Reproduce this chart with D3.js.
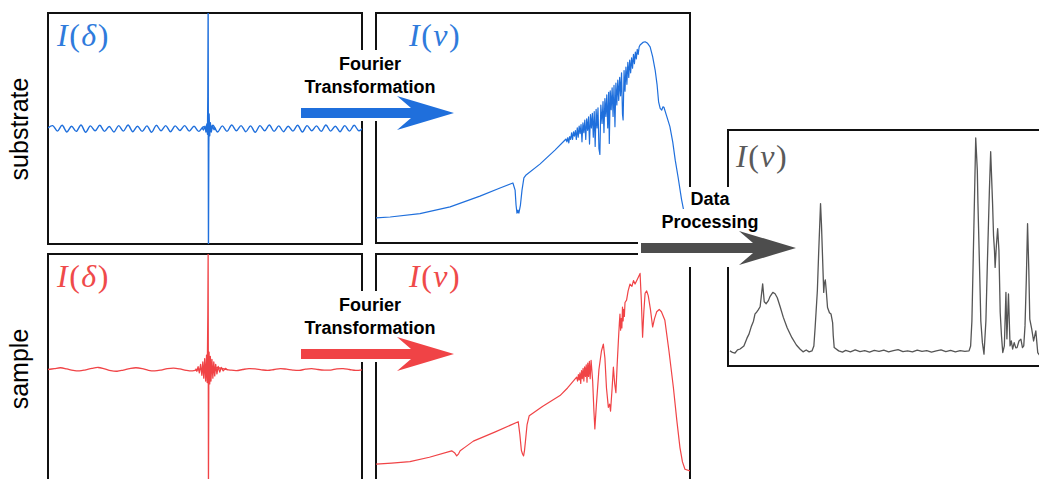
<!DOCTYPE html>
<html>
<head>
<meta charset="utf-8">
<script src="https://cdn.jsdelivr.net/npm/d3@7"></script>
<style>
  body { margin: 0; background: #fff; }
  svg { display: block; }
</style>
</head>
<body>
<svg id="chart" width="1039" height="479"></svg>
<script>
// labels
const rowLabels = ["substrate", "sample"];
const deltaTitle = ["I", "(", "δ", ")"];
const nuTitle = ["I", "(", "ν", ")"];
const ftLabel = ["Fourier", "Transformation"];
const dpLabel = ["Data", "Processing"];

// interferogram wiggle, substrate: one value every 1.5 units of path difference
const substrateWiggle = [0.2, 1.0, -0.9, 1.1, -1.2, 0.8, -1.0, 1.2, -1.3, 0.9, -0.8, 1.1, -1.0, 0.7,
  -1.2, 1.0, -0.9, 1.2, -1.1, 0.8, -1.0, 0.9, -1.3, 1.1, -0.8, 1.0, -1.1, 0.9, -0.7, 1.0, -0.9, 0.8,
  -1.0, 0.6, -0.8, 1.1, -1.2, 0.9, -1.0, 1.2, -0.8, 1.0, -1.1, 0.9, -1.3, 1.0, -0.8, 1.2, -1.0, 0.9,
  -1.1, 0.8, -0.9, 1.1, -1.2, 1.0, -0.8, 0.9, -1.0, 1.2, -0.9, 0.8, -1.1, 1.0, -0.9, 1.1, -0.8, 0.4];
// centre burst, substrate [delta, I]
const substrateBurst = [[49.0, 0.2], [49.5, -0.5], [50.0, 0.8], [50.3, -1.2], [50.6, 1.6], [50.8, -2.0],
  [50.9, 11], [51.0, 40], [51.1, -40], [51.2, -7], [51.3, 5], [51.5, -2.5], [51.7, 2], [52.0, -1.2],
  [52.4, 0.8], [52.9, -0.4], [53.4, 0.2]];

// interferogram wiggle, sample: one value every 2 units
const sampleWiggle = [0, 0.3, 0.6, 0.2, -0.3, -0.5, -0.1, 0.4, 0.7, 0.2, -0.4, -0.6, -0.2, 0.3, 0.6,
  0.3, -0.3, -0.5, -0.2, 0.3, 0.5, 0.2, -0.3, -0.5, 0, 0.2, 0.3, 0.6, 0.2, -0.2, -0.4, 0, 0.3, 0.2,
  -0.1, -0.3, 0, 0.3, 0.1, -0.2, -0.3, 0.1, 0.3, 0, -0.2, -0.2, 0.2, 0.3, 0, -0.3, -0.1];
const sampleBurst = [[47.0, 0.3], [47.4, -0.6], [47.8, 1.0], [48.2, -1.2], [48.6, 1.8], [49.0, -2.0],
  [49.3, 2.6], [49.6, -3.0], [49.9, 3.8], [50.2, -4.0], [50.5, 5.0], [50.7, -4.5], [50.9, 19],
  [51.0, 40], [51.1, -40], [51.2, -6], [51.3, 6], [51.5, -5], [51.7, 4.5], [51.9, -4], [52.2, 3.5],
  [52.5, -3], [52.8, 2.6], [53.1, -2.2], [53.4, 1.8], [53.8, -1.5], [54.2, 1.1], [54.7, -0.9],
  [55.2, 0.7], [55.8, -0.5], [56.5, 0.4], [57.2, -0.2]];

// single-beam spectra [wavenumber, intensity]
const substrateSpectrum = [[0, 10.9], [4.5, 11.3], [14, 12.8], [23.6, 15.7], [33.1, 20.4], [39.5, 23.9],
  [43.6, 26.1], [44.3, 23], [44.6, 16.5], [44.9, 13], [45.2, 14.3], [45.5, 13], [46, 16.5], [46.5, 23],
  [47.1, 28.3], [47.8, 29.6], [52.2, 34.3], [57, 40.4], [60.2, 44.8],
  [60.5, 45.2], [60.8, 44], [61.1, 45.8], [61.4, 43.5], [61.7, 46.3], [62.0, 45], [62.3, 47.9],
  [62.6, 45], [62.9, 48.3], [63.2, 46.5], [63.5, 48.9], [63.8, 45], [64.1, 50.1], [64.4, 46],
  [64.7, 50.8], [65.0, 47.5], [65.3, 51.5], [65.6, 44], [65.9, 52.2], [66.2, 48], [66.5, 53.4],
  [66.8, 45], [67.1, 54], [67.4, 49], [67.7, 54.8], [68.0, 43], [68.3, 55.8], [68.6, 50], [68.9, 56.4],
  [69.2, 46], [69.5, 57.1], [69.8, 42], [70.1, 58.1], [70.4, 50], [70.7, 58.8], [71.0, 41],
  [71.3, 38.5], [71.6, 60], [72.0, 52], [72.3, 61.5], [72.6, 48], [72.9, 62.8], [73.2, 55], [73.5, 64.4],
  [73.8, 50], [74.1, 65.5], [74.3, 43.3], [74.6, 66.2], [74.9, 58], [75.2, 67.5], [75.5, 55],
  [75.8, 68.5], [76.1, 50.6], [76.4, 69.5], [76.7, 60], [77.0, 70.8], [77.3, 62], [77.6, 72],
  [77.9, 64], [78.2, 74], [78.5, 56], [78.7, 53.5], [79.0, 75], [79.3, 66], [79.6, 76.5], [79.9, 69],
  [80.2, 78.5], [80.5, 72], [80.8, 79.5], [81.1, 74], [81.4, 80.5], [81.7, 76], [82.0, 82], [82.3, 78],
  [82.6, 83], [82.9, 80], [83.2, 84.2], [83.5, 82], [83.8, 85.2], [84.1, 86.1],
  [85.0, 87.2], [85.7, 87.5], [86.5, 86.8], [87.3, 85.3], [88.1, 81], [88.9, 75.2], [89.5, 69],
  [90, 61.4], [90.5, 58.5], [91, 57.8], [91.4, 59.2], [91.7, 59], [92.5, 55.5], [93.6, 50.6],
  [94.5, 44], [95.3, 36], [96.2, 28.7], [97.3, 19], [98.4, 11.3], [99.2, 6]];

const sampleSpectrum = [[0, 9], [5, 9.5], [10.8, 10.1], [17, 12], [24.1, 14.8], [25, 14], [25.7, 12.6],
  [26.3, 13.5], [26.8, 14.8], [28.5, 16.5], [31, 19], [38, 23], [45.3, 27.4], [45.8, 22], [46.3, 15],
  [46.7, 13.3], [47, 12.6], [47.3, 15], [47.6, 19], [48.1, 26], [48.8, 30], [53, 34], [58.6, 38.7],
  [61, 42], [63.9, 46.7], [64.2, 45], [64.45, 47.8], [64.7, 45.5], [64.95, 48.5], [65.2, 44],
  [65.45, 49.5], [65.7, 46], [65.95, 50.5], [66.2, 45], [66.45, 51.2], [66.7, 47], [66.95, 52],
  [67.2, 44.5], [67.45, 52.8], [67.7, 47], [67.95, 53.5], [68.2, 46], [68.5, 54], [69.0, 45],
  [69.4, 32], [69.7, 24.3], [70.2, 35], [71, 50], [71.8, 58], [72.4, 61], [72.9, 55], [73.4, 42],
  [74, 33.6], [74.4, 35], [74.7, 32], [75.2, 42], [75.6, 51], [76.0, 44], [76.4, 40], [76.8, 52],
  [77.2, 62.6], [77.5, 70], [77.7, 74], [77.9, 67], [78.1, 72], [78.3, 68], [78.5, 77], [78.7, 71],
  [78.9, 76], [79.1, 73], [79.3, 79], [79.8, 80], [80.3, 84], [80.9, 87], [81.5, 86], [82.0, 88.5],
  [82.5, 87], [83.2, 89], [84.1, 91.6], [84.5, 80], [84.9, 64], [85.3, 75], [85.7, 83], [86.2, 84],
  [86.7, 82], [87.4, 76], [88.1, 68.4], [88.7, 72], [89.4, 75], [90.2, 76], [90.9, 75], [92, 71.3],
  [93.3, 58], [94.7, 42.3], [95.8, 28], [96.8, 16.2], [97.6, 10], [98.4, 6.8], [100, 6.1]];

// processed (absorbance-like) spectrum
const processedSpectrum = [[0.6, 6.4], [1.4, 5.8], [2.2, 5.5], [3.0, 6.8], [3.8, 7.2], [5.0, 8.5],
  [6.0, 11.9], [6.6, 13.5], [7.3, 16.6], [8.0, 19], [8.5, 22.1], [9.0, 22.8], [9.5, 23.8], [10.1, 25.1],
  [10.9, 34.8], [11.4, 27.2], [12.0, 26.4], [12.7, 27.7], [13.2, 29.4], [14.1, 31.2], [14.8, 30.6],
  [15.5, 28.9], [16.4, 25.1], [17.4, 20.6], [18.6, 16.2], [20.1, 12.0], [21.5, 8.9], [22.7, 7.1],
  [23.6, 6.0], [24.6, 6.8], [25.5, 6.0], [26.4, 6.4], [27.0, 8.5], [27.4, 16.3],
  [28.1, 31.9], [28.5, 47.5], [29.1, 68.8], [29.4, 59.6], [29.7, 47.5], [30.1, 31.2], [30.3, 34.9],
  [30.6, 36.5], [30.9, 31.9], [31.3, 24.8], [31.9, 22.6], [32.4, 22.0], [32.9, 18.4], [33.1, 12.8],
  [33.4, 7.8], [34.8, 6.4], [36, 5.9], [37, 6.6], [38.5, 6.0], [40, 6.8], [41.5, 6.1], [43, 6.5],
  [44.5, 5.9], [46, 6.6], [47.5, 6.2], [49, 6.7], [50.5, 6.0], [52, 6.5], [53.5, 6.9], [55, 6.1],
  [56.5, 6.4], [58, 6.0], [59.5, 6.7], [61, 6.2], [62.5, 6.5], [64, 5.9], [65.5, 6.4], [67, 6.8],
  [68.5, 6.1], [70, 6.6], [71.5, 6.0], [73, 6.5], [74.5, 6.2], [75.8, 6.4], [76.3, 8.5], [76.7, 19.1],
  [77.3, 57.4], [77.9, 96.6], [78.4, 83], [78.6, 68.8], [79.2, 36.2], [79.5, 19.1], [80.0, 9.9],
  [80.5, 5.0], [81.1, 19.1], [81.6, 45.4], [82.2, 74.5], [82.6, 90.8], [83.2, 68.8], [83.5, 55.3],
  [83.8, 48.9], [84.0, 41.8], [84.4, 51.1], [84.8, 58.2], [85.2, 48.9], [85.6, 22.7], [86.0, 12.8],
  [86.4, 5.7], [86.9, 8.5], [87.4, 31.2], [87.7, 11.5], [88.2, 30.5], [88.7, 8.5], [89.1, 10.6],
  [89.5, 7.2], [90.0, 9.9], [90.5, 7.7], [90.9, 7.8], [91.5, 10.6], [92.1, 11.4], [92.6, 7.8],
  [93.0, 8.5], [93.4, 17.0], [93.8, 36.2], [94.2, 60.3], [94.6, 40.4], [94.9, 19.9], [95.5, 15.7],
  [96.1, 10.6], [96.8, 14.9], [97.4, 5.7], [98.1, 4.3], [99.1, 6.4]];

const blue = "#1f6fdc", red = "#f04346", gray = "#555555";

const svg = d3.select("#chart");

// panel boxes
const panels = {
  tl: { x: 48, y: 13, w: 314, h: 231 },
  tm: { x: 376, y: 13, w: 314, h: 230 },
  bl: { x: 48, y: 254, w: 314, h: 231 },
  bm: { x: 376, y: 254, w: 314, h: 231 },
  r:  { x: 728, y: 130, w: 318, h: 236 }
};

const defs = svg.append("defs");
Object.entries(panels).forEach(([k, p]) => {
  defs.append("clipPath").attr("id", "clip-" + k)
    .append("rect").attr("x", p.x).attr("y", p.y).attr("width", p.w).attr("height", p.h);
});

Object.values(panels).forEach(p => {
  svg.append("rect")
    .attr("x", p.x).attr("y", p.y).attr("width", p.w).attr("height", p.h)
    .attr("fill", "none").attr("stroke", "#111").attr("stroke-width", 2);
});

function drawSeries(key, data, yDomain, color, curve, width) {
  const p = panels[key];
  const x = d3.scaleLinear().domain([0, 100]).range([p.x, p.x + p.w]);
  const y = d3.scaleLinear().domain(yDomain).range([p.y + p.h, p.y]);
  const line = d3.line().x(d => x(d[0])).y(d => y(d[1])).curve(curve || d3.curveLinear);
  svg.append("path")
    .datum(data)
    .attr("clip-path", `url(#clip-${key})`)
    .attr("d", line)
    .attr("fill", "none")
    .attr("stroke", color)
    .attr("stroke-width", width || 1.2)
    .attr("stroke-linejoin", "round");
}

// interferograms
drawSeries("tl", substrateWiggle.map((v, i) => [i * 1.5, v]), [-40, 40], blue, d3.curveCatmullRom, 1.4);
drawSeries("tl", substrateBurst, [-40, 40], blue, d3.curveLinear, 1.4);
drawSeries("bl", sampleWiggle.map((v, i) => [i * 2, v]), [-40, 40], red, d3.curveCatmullRom, 1.3);
drawSeries("bl", sampleBurst, [-40, 40], red, d3.curveLinear, 1.3);

// spectra
drawSeries("tm", substrateSpectrum, [0, 100], blue, d3.curveLinear, 1.2);
drawSeries("bm", sampleSpectrum, [0, 100], red, d3.curveLinear, 1.2);
drawSeries("r", processedSpectrum, [0, 100], gray, d3.curveLinear, 1.3);

// white patches behind the step labels and arrows
const patches = [
  [300, 50, 156, 71], [300, 291, 156, 71],
  [686, 187, 47, 22], [657, 209, 106, 24], [638, 231, 159, 36]
];
svg.selectAll(".patch").data(patches).enter().append("rect")
  .attr("x", d => d[0]).attr("y", d => d[1]).attr("width", d => d[2]).attr("height", d => d[3])
  .attr("fill", "#fff");

// block arrows with swept-back heads
function arrow(x0, xt, yc, color) {
  const pts = [[x0, yc - 5], [xt - 43, yc - 5], [xt - 57, yc - 17], [xt, yc],
    [xt - 57, yc + 17], [xt - 43, yc + 5], [x0, yc + 5]];
  svg.append("path").attr("d", d3.line()(pts) + "Z").attr("fill", color);
}
arrow(301, 454, 113, blue);
arrow(301, 454, 354, red);
arrow(641, 796, 248, "#4d4d4d");

function stepLabel(lines, cx, y0) {
  lines.forEach((t, i) => {
    svg.append("text")
      .attr("x", cx).attr("y", y0 + i * 23)
      .attr("text-anchor", "middle")
      .attr("font-family", "Liberation Sans, Arial, sans-serif")
      .attr("font-weight", "bold").attr("font-size", 18)
      .attr("fill", "#000")
      .text(t);
  });
}
stepLabel(ftLabel, 370, 70);
stepLabel(ftLabel, 370, 311);
stepLabel(dpLabel, 710, 205);

// panel titles: italic symbols, upright brackets
function title(parts, x, y, color) {
  const t = svg.append("text")
    .attr("x", x).attr("y", y)
    .attr("font-family", "Liberation Serif, Times New Roman, serif")
    .attr("font-size", 32)
    .attr("fill", color);
  parts.forEach((s, i) => {
    t.append("tspan")
      .attr("font-style", i % 2 === 0 ? "italic" : "normal")
      .attr("dx", i === 0 ? 0 : 1.5)
      .text(s);
  });
}
title(deltaTitle, 57, 46, "#2f7bdc");
title(nuTitle, 409, 46, "#2f7bdc");
title(deltaTitle, 57, 287, "#ef4a4a");
title(nuTitle, 409, 287, "#ef4a4a");
title(nuTitle, 736, 167, "#5a5a5a");

// row labels
[[rowLabels[0], 129], [rowLabels[1], 369]].forEach(([t, cy]) => {
  svg.append("text")
    .attr("transform", `translate(28,${cy}) rotate(-90)`)
    .attr("text-anchor", "middle")
    .attr("font-family", "Liberation Sans, Arial, sans-serif")
    .attr("font-size", 25)
    .attr("fill", "#000")
    .text(t);
});
</script>
</body>
</html>
